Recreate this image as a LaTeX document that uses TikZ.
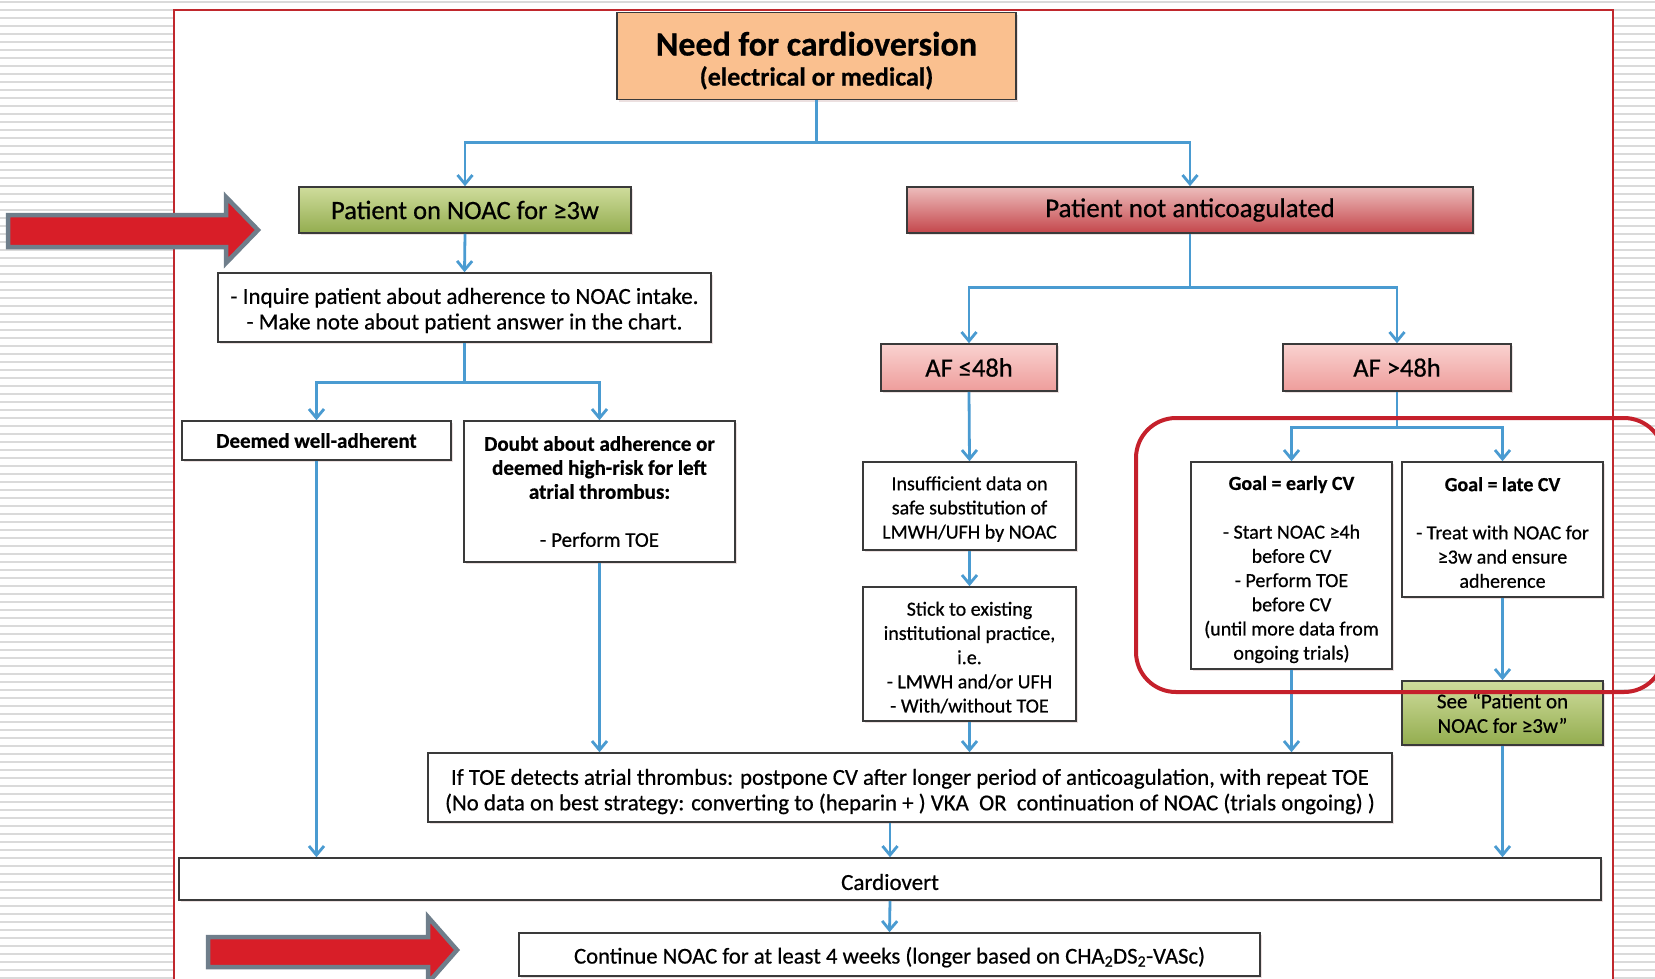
\documentclass[tikz,border=0pt]{standalone}
\usepackage{fontspec}
\setmainfont{Carlito}[FakeBold=0.6]
\usetikzlibrary{arrows.meta,shadows,calc}
\definecolor{connblue}{HTML}{4A9BD1}
\definecolor{boxdraw}{HTML}{3A3A3A}
\definecolor{frame}{HTML}{C0282D}
\definecolor{hilite}{HTML}{C5202B}
\definecolor{peach}{HTML}{FAC08F}
\definecolor{greentop}{HTML}{CFDC9C}
\definecolor{greenbot}{HTML}{93AD4F}
\definecolor{redtop}{HTML}{EDBDBC}
\definecolor{redbot}{HTML}{C4464B}
\definecolor{pinktop}{HTML}{F9D2D0}
\definecolor{pinkbot}{HTML}{EE9D9B}
\definecolor{arrred}{HTML}{D81E28}
\definecolor{arrgray}{HTML}{6F7E8B}
\definecolor{stripe}{HTML}{DADADA}
\begin{document}
\begin{tikzpicture}[x=1pt,y=-1pt,
  box/.style={draw=boxdraw, line width=1.6pt, fill=white, inner sep=0pt, align=center,
    font=\fontsize{21}{24}\selectfont,
    drop shadow={shadow xshift=2pt, shadow yshift=-2pt, fill=red!40!black, opacity=.12}},
  smallbox/.style={box, font=\fontsize{20}{24.2}\selectfont},
  titlebox/.style={box, fill=peach},
  greenbox/.style={box, top color=greentop, bottom color=greenbot},
  redbox/.style={box, top color=redtop, bottom color=redbot, font=\fontsize{27}{30}\selectfont},
  pinkbox/.style={box, top color=pinktop, bottom color=pinkbot, font=\fontsize{26.5}{30}\selectfont},
  conn/.style={draw=connblue, line width=2.8pt},
  arr/.style={conn, -{Straight Barb[length=9pt,width=15pt]}},
  bigarrow/.style={fill=arrred, draw=arrgray, line width=4.5pt, line join=miter}
]
\useasboundingbox (0,0) rectangle (1655,978);
% striped background
\foreach \yy in {2,10,...,978} \draw[stripe, line width=2pt] (0,\yy) -- (1655,\yy);
% framed white page
\draw[line width=2pt, draw=frame, fill=white] (174,995) -- (174,9.5) -- (1613,9.5) -- (1613,995);

% nodes
\node[titlebox, minimum width=399pt, minimum height=87pt] (title) at (816.5,56)
  {\rule{0pt}{33pt}{\fontsize{34}{36}\selectfont\bfseries Need for cardioversion}\\[6pt]{\fontsize{26}{29}\selectfont\bfseries (electrical or medical)}};
\node[greenbox, minimum width=332pt, minimum height=46pt, font=\fontsize{26.5}{30}\selectfont] (noac) at (465,210) {Patient on NOAC for ≥3w};
\node[redbox, minimum width=566pt, minimum height=46pt] (notac) at (1190,210) {Patient not anticoagulated};
\node[box, minimum width=493pt, minimum height=69pt, font=\fontsize{23}{25.5}\selectfont] (inquire) at (464.5,307.5)
  {\rule{0pt}{22pt}- Inquire patient about adherence to NOAC intake.\\- Make note about patient answer in the chart.};
\node[box, minimum width=269pt, minimum height=39pt, font=\fontsize{21}{24}\selectfont\bfseries] (well) at (316.5,440.5) {Deemed well-adherent};
\node[box, minimum width=271pt, minimum height=141pt] (doubt) at (599.5,491.5)
  {\textbf{Doubt about adherence or}\\\textbf{deemed high-risk for left}\\\textbf{atrial thrombus:}\\[24pt]- Perform TOE};
\node[pinkbox, minimum width=176pt, minimum height=47pt] (af48) at (969,367.5) {AF ≤48h};
\node[pinkbox, minimum width=228pt, minimum height=47pt] (afgt) at (1397,367.5) {AF >48h};
\node[smallbox, minimum width=213pt, minimum height=88pt] (insuff) at (969.5,506)
  {\rule{0pt}{20pt}Insufficient data on\\safe substitution of\\LMWH/UFH by NOAC};
\node[smallbox, minimum width=213pt, minimum height=134pt] (stick) at (969.5,654)
  {\rule{0pt}{21pt}Stick to existing\\institutional practice,\\i.e.\\- LMWH and/or UFH\\- With/without TOE};
\node[smallbox, minimum width=201pt, minimum height=207pt] (early) at (1291.5,565.5)
  {\rule{0pt}{22pt}\textbf{Goal = early CV}\\[24.5pt]- Start NOAC ≥4h\\before CV\\- Perform TOE\\before CV\\(until more data from\\ongoing trials)};
\node[smallbox, minimum width=201pt, minimum height=135pt] (late) at (1502.5,529.5)
  {\rule{0pt}{20pt}\textbf{Goal = late CV}\\[24pt]- Treat with NOAC for\\≥3w and ensure\\adherence};
\node[greenbox, minimum width=201pt, minimum height=64pt, font=\fontsize{21}{24.5}\selectfont] (see) at (1502.5,713)
  {See “Patient on\\NOAC for ≥3w”};
\node[box, minimum width=964pt, minimum height=69pt, font=\fontsize{22.8}{25.5}\selectfont] (toe) at (910,787.5)
  {\rule{0pt}{24pt}If TOE detects atrial thrombus: postpone CV after longer period of anticoagulation, with repeat TOE\\(No data on best strategy: converting to (heparin + ) VKA\ \ OR\ \ continuation of NOAC (trials ongoing) )};
\node[box, minimum width=1422pt, minimum height=42pt, font=\fontsize{23}{25}\selectfont] (cardio) at (890,879) {\rule{0pt}{22pt}Cardiovert};
\node[box, minimum width=741pt, minimum height=43pt, font=\fontsize{22.7}{25}\selectfont] (cont) at (889.5,954.5)
  {\rule{0pt}{22pt}Continue NOAC for at least 4 weeks (longer based on CHA\textsubscript{2}DS\textsubscript{2}-VASc)};

% connectors
\draw[conn] (title.south) -- ++(0,42) coordinate (j1);
\draw[arr] (j1) -| (noac.north);
\draw[arr] (j1) -| (notac.north);
\draw[arr] (noac.south) -- (inquire.north);
\draw[conn] (inquire.south) -- ++(0,40) coordinate (j2);
\draw[arr] (j2) -| (well.north);
\draw[arr] (j2) -| (doubt.north);
\draw[conn] (notac.south) -- ++(0,54) coordinate (j3);
\draw[arr] (j3) -| (af48.north);
\draw[arr] (j3) -| (afgt.north);
\draw[arr] (af48.south) -- (insuff.north);
\draw[arr] (insuff.south) -- (stick.north);
\draw[arr] (stick.south) -- (stick.south |- toe.north);
\draw[conn] (afgt.south) -- ++(0,36) coordinate (j4);
\draw[arr] (j4) -| (early.north);
\draw[arr] (j4) -| (late.north);
\draw[arr] (early.south) -- (early.south |- toe.north);
\draw[arr] (late.south) -- (see.north);
\draw[arr] (see.south) -- (see.south |- cardio.north);
\draw[arr] (well.south) -- (well.south |- cardio.north);
\draw[arr] (doubt.south) -- (doubt.south |- toe.north);
\draw[arr] (toe.south -| cardio.north) -- (cardio.north);
\draw[arr] (cardio.south) -- (cont.north);

% highlight
\draw[hilite, line width=4pt, rounded corners=40pt] (1136,418) rectangle (1664,692);

% red block arrows
\draw[bigarrow] (8,215) -- (226,215) -- (226,197) -- (258,230) -- (226,263) -- (226,247) -- (8,247) -- cycle;
\draw[bigarrow] (208,937) -- (428,937) -- (428,917) -- (457,950) -- (428,983) -- (428,967) -- (208,967) -- cycle;
\end{tikzpicture}
\end{document}
